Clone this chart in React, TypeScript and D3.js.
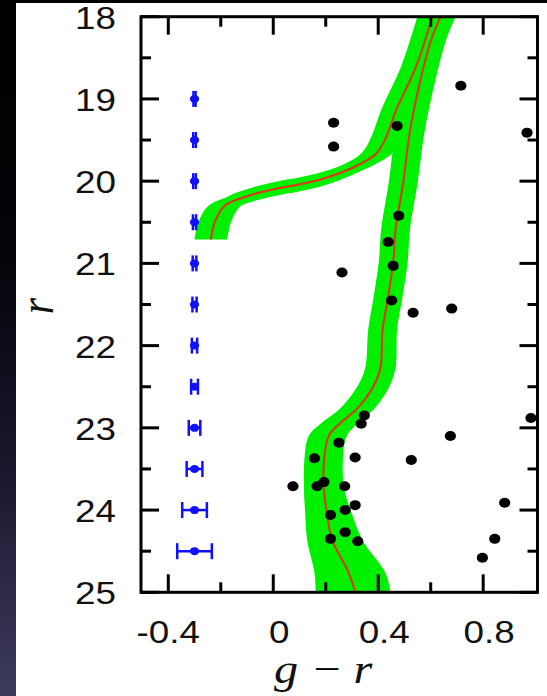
import React from 'react';
import * as d3 from 'd3';

const W = 547;
const H = 696;

// axis ticks
const xMajorTicks = [-0.4, 0, 0.4, 0.8];
const xTickLabels = ['-0.4', '0', '0.4', '0.8'];
const xMinorTicks = [-0.2, 0.2, 0.6];
const yMajorTicks = [18, 19, 20, 21, 22, 23, 24, 25];
const yTickLabels = ['18', '19', '20', '21', '22', '23', '24', '25'];
const yMinorTicks = [18.5, 19.5, 20.5, 21.5, 22.5, 23.5, 24.5];

// main-sequence / RGB isochrone (g-r, r) from faint to bright
const mainIsoMag = [25.0, 24.76, 24.36, 24.0, 23.75, 23.42, 23.1, 22.94, 22.77, 22.55, 22.29, 21.8, 21.4, 20.99, 20.59, 20.02, 19.41, 18.81, 18.28, 18.0];
const mainIsoColor = [0.312, 0.287, 0.224, 0.203, 0.193, 0.193, 0.211, 0.256, 0.319, 0.372, 0.407, 0.417, 0.438, 0.457, 0.466, 0.495, 0.52, 0.558, 0.602, 0.638];
const mainBandLeft = [0.15, 0.13, 0.095, 0.082, 0.076, 0.075, 0.076, 0.072, 0.066, 0.062, 0.058, 0.055, 0.055, 0.055, 0.055, 0.055, 0.056, 0.057, 0.057, 0.057];
const mainBandRight = [0.135, 0.14, 0.115, 0.092, 0.078, 0.072, 0.069, 0.068, 0.065, 0.062, 0.058, 0.055, 0.055, 0.055, 0.055, 0.055, 0.056, 0.057, 0.057, 0.057];

// horizontal-branch isochrone (g-r, r)
const hbIsoMag = [20.71, 20.5, 20.3, 20.18, 20.08, 20.04, 19.97, 19.84, 19.66, 19.45, 19.13, 18.6, 18.0];
const hbIsoColor = [-0.238, -0.223, -0.185, -0.097, 0.029, 0.098, 0.19, 0.3, 0.394, 0.432, 0.469, 0.545, 0.606];
const hbBandColor = [0.062, 0.062, 0.062, 0.062, 0.062, 0.062, 0.062, 0.06, 0.058, 0.057, 0.057, 0.057, 0.057];
const hbBandMag = [0.085, 0.085, 0.085, 0.085, 0.085, 0.085, 0.085, 0.085, 0.085, 0.08, 0.07, 0.06, 0.06];

// stars
const starColor = [0.715, 0.23, 0.23, 0.472, 0.967, 0.478, 0.438, 0.457, 0.262, 0.451, 0.533, 0.68, 0.347, 0.335, 0.982, 0.675, 0.25, 0.157, 0.312, 0.526, 0.193, 0.167, 0.272, 0.075, 0.312, 0.274, 0.218, 0.274, 0.218, 0.322, 0.882, 0.844, 0.797];
const starMag = [18.84, 19.29, 19.58, 19.33, 19.41, 20.42, 20.74, 21.03, 21.11, 21.45, 21.6, 21.55, 22.85, 22.95, 22.88, 23.1, 23.18, 23.37, 23.36, 23.39, 23.66, 23.71, 23.71, 23.71, 23.94, 24.0, 24.06, 24.27, 24.35, 24.38, 23.91, 24.35, 24.58];

// photometric error bars
const errMag = [19, 19.5, 20, 20.5, 21, 21.5, 22, 22.5, 23, 23.5, 24, 24.5];
const errColor = [0.004, 0.005, 0.005, 0.006, 0.007, 0.008, 0.01, 0.013, 0.022, 0.03, 0.047, 0.066];
const errX = -0.3;

const STRETCH = 1.15;

export default function App() {
  const x = d3.scaleLinear().domain([-0.504, 1.007]).range([141, 537.5]);
  const y = d3.scaleLinear().domain([18, 25]).range([16.7, 592.3]);
  const [x0, x1] = x.range();
  const [y0, y1] = y.range();

  const main = mainIsoMag.map((m, i) => ({ m, c: mainIsoColor[i], l: mainBandLeft[i], r: mainBandRight[i] }));
  const hbEnd = d3.max(hbIsoMag) as number;
  const hb = hbIsoMag.map((m, i) => ({ m, c: hbIsoColor[i], wc: hbBandColor[i], wm: hbBandMag[i] }));

  const curve = d3.curveCatmullRom.alpha(0.5);
  const mainBand = d3.area<any>().curve(curve).y(d => y(d.m)).x0(d => x(d.c - d.l)).x1(d => x(d.c + d.r))(main) || '';
  const hbBandH = d3.area<any>().curve(curve).y(d => y(d.m)).x0(d => x(d.c - d.wc)).x1(d => x(d.c + d.wc))(hb) || '';
  const hbBandV = d3.area<any>().curve(curve).x(d => x(d.c)).y0(d => y(d.m - d.wm)).y1(d => y(Math.min(d.m + d.wm, hbEnd)))(hb) || '';
  const line = d3.line<any>().curve(curve).x(d => x(d.c)).y(d => y(d.m));

  const font = "'Liberation Sans', Arial, Helvetica, sans-serif";
  const serif = "'Liberation Serif', 'Times New Roman', serif";

  return (
    <svg width={W} height={H} style={{ position: 'absolute', left: 0, top: 0, background: '#fff' }}>
      <defs>
        <linearGradient id="lband" x1="0" y1="0" x2="0" y2="1">
          <stop offset="0" stopColor="#000" />
          <stop offset="0.35" stopColor="#040308" />
          <stop offset="0.65" stopColor="#17152a" />
          <stop offset="1" stopColor="#3d3b5c" />
        </linearGradient>
        <clipPath id="plotclip">
          <rect x={x0} y={y0} width={x1 - x0} height={y1 - y0} />
        </clipPath>
      </defs>
      <rect x={0} y={0} width={W} height={H} fill="#fff" />
      <rect x={0} y={0} width={16} height={H} fill="url(#lband)" />
      <rect x={0} y={0} width={W} height={3} fill="#000" />

      <g clipPath="url(#plotclip)">
        <path d={mainBand} fill="#00f000" />
        <path d={hbBandH} fill="#00f000" />
        <path d={hbBandV} fill="#00f000" />
        <path d={line(main) || ''} fill="none" stroke="#e2321c" strokeWidth={2} />
        <path d={line(hb) || ''} fill="none" stroke="#e2321c" strokeWidth={2} />
        {starColor.map((c, i) => (
          <ellipse key={i} cx={x(c)} cy={y(starMag[i])} rx={5.6} ry={5} fill="#000" />
        ))}
      </g>

      {errMag.map((m, i) => {
        const cx = x(errX);
        const cy = y(m);
        const xl = x(errX - errColor[i]);
        const xr = x(errX + errColor[i]);
        return (
          <g key={i} stroke="#1010ff" strokeWidth={2.5} fill="#1010ff">
            <line x1={xl} x2={xr} y1={cy} y2={cy} />
            <line x1={xl} x2={xl} y1={cy - 8} y2={cy + 8} />
            <line x1={xr} x2={xr} y1={cy - 8} y2={cy + 8} />
            <ellipse cx={cx} cy={cy} rx={4.6} ry={4} stroke="none" />
          </g>
        );
      })}

      {/* frame */}
      <rect x={x0} y={y0} width={x1 - x0} height={y1 - y0} fill="none" stroke="#000" strokeWidth={3} />
      <g stroke="#000" strokeWidth={3}>
        {xMajorTicks.map((t, i) => (
          <g key={'xm' + i}>
            <line x1={x(t)} x2={x(t)} y1={y1} y2={y1 - 18} />
            <line x1={x(t)} x2={x(t)} y1={y0} y2={y0 + 18} />
          </g>
        ))}
        {xMinorTicks.map((t, i) => (
          <g key={'xn' + i}>
            <line x1={x(t)} x2={x(t)} y1={y1} y2={y1 - 10} />
            <line x1={x(t)} x2={x(t)} y1={y0} y2={y0 + 10} />
          </g>
        ))}
        {yMajorTicks.map((t, i) => (
          <g key={'ym' + i}>
            <line x1={x0} x2={x0 + 18} y1={y(t)} y2={y(t)} />
            <line x1={x1} x2={x1 - 18} y1={y(t)} y2={y(t)} />
          </g>
        ))}
        {yMinorTicks.map((t, i) => (
          <g key={'yn' + i}>
            <line x1={x0} x2={x0 + 10} y1={y(t)} y2={y(t)} />
            <line x1={x1} x2={x1 - 10} y1={y(t)} y2={y(t)} />
          </g>
        ))}
      </g>

      {/* tick labels */}
      <g fontFamily={font} fontSize={32} fill="#111">
        {yMajorTicks.map((t, i) => (
          <text key={'yl' + i} transform={`translate(116,${y(t) + 12}) scale(${STRETCH},1)`} textAnchor="end">
            {yTickLabels[i]}
          </text>
        ))}
        {xMajorTicks.map((t, i) => (
          <text key={'xl' + i} transform={`translate(${x(t) + (t < 0 ? 0 : 6)},643) scale(${STRETCH},1)`} textAnchor="middle">
            {xTickLabels[i]}
          </text>
        ))}
      </g>

      {/* axis titles */}
      <text transform={`translate(53,306) scale(${STRETCH},1) rotate(-90)`} textAnchor="middle" fontFamily={serif} fontStyle="italic" fontSize={42} fill="#111">r</text>
      <g fontFamily={serif} fontSize={42} fill="#111">
        <text transform={`translate(286,683) scale(${STRETCH},1)`} textAnchor="middle" fontStyle="italic">g</text>
        <text transform={`translate(327,683) scale(${STRETCH},1)`} textAnchor="middle">−</text>
        <text transform={`translate(363,683) scale(${STRETCH},1)`} textAnchor="middle" fontStyle="italic">r</text>
      </g>
    </svg>
  );
}
